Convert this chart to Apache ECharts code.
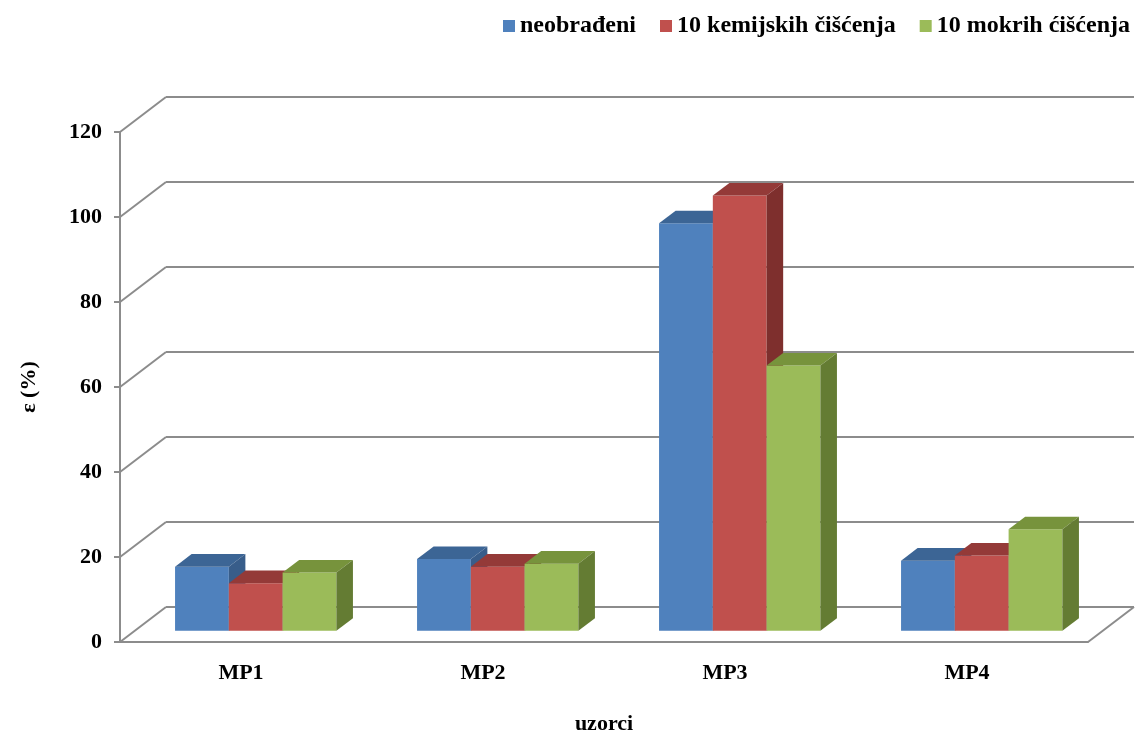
<!DOCTYPE html>
<html>
<head>
<meta charset="utf-8">
<script src="https://cdn.jsdelivr.net/npm/echarts@6/dist/echarts.min.js"></script>
<style>
  html, body { margin: 0; padding: 0; background: #fff; }
  #echart { width: 1137px; height: 736px; }
</style>
</head>
<body>
<div id="echart"></div>
<script>
var categories = ['MP1', 'MP2', 'MP3', 'MP4'];
var seriesNames = ['neobrađeni', '10 kemijskih čišćenja', '10 mokrih ćišćenja'];
var neobradeni = [15.1, 16.9, 95.9, 16.5];
var kemijskih = [11.2, 15.1, 102.4, 17.7];
var mokrih = [13.7, 15.8, 62.4, 23.9];
var yTicks = [0, 20, 40, 60, 80, 100, 120];

// colors: front, top, side
var colors = [
  ['#4f81bd', '#3c6595', '#385d8a'],
  ['#c0504d', '#943a38', '#7e2f2d'],
  ['#9bbb59', '#77933c', '#647c33']
];

// depth of the "3d" box (wall) in px, bars take the middle part of it
var wallDx = 46, wallDy = 35;
var barFront = 0.32, barDepth = 0.36;
var gridColor = '#8c8c8c';
var font = 'Liberation Serif';

function renderWalls(params, api) {
  var cs = params.coordSys;
  var y = api.coord([0, api.value(0)])[1];
  var x = cs.x;
  var children = [
    {type: 'line', shape: {x1: x, y1: y, x2: x + wallDx, y2: y - wallDy}},
    {type: 'line', shape: {x1: x + wallDx, y1: y - wallDy, x2: x + cs.width + wallDx, y2: y - wallDy}}
  ];
  if (api.value(0) === 0) {
    children.push({type: 'line', shape: {x1: x + cs.width, y1: y, x2: x + cs.width + wallDx, y2: y - wallDy}});
  }
  children.forEach(function (c) {
    c.style = {stroke: gridColor, lineWidth: 2};
  });
  return {type: 'group', children: children};
}

function makeBarRender(s) {
  return function (params, api) {
    var i = api.value(0);
    var top = api.coord([i, api.value(1)]);
    var bottom = api.coord([i, 0]);
    var band = api.size([1, 0])[0];
    var bw = band / 4.5;
    var ox = barFront * wallDx, oy = barFront * wallDy;
    var dx = barDepth * wallDx, dy = barDepth * wallDy;
    var x0 = top[0] - 1.5 * bw + s * bw + ox;
    var yt = top[1] - oy;
    var yb = bottom[1] - oy;
    var c = colors[s];
    return {
      type: 'group',
      children: [
        {type: 'rect', shape: {x: x0, y: yt, width: bw, height: yb - yt}, style: {fill: c[0]}},
        {type: 'polygon', shape: {points: [[x0, yt], [x0 + bw, yt], [x0 + bw + dx, yt - dy], [x0 + dx, yt - dy]]}, style: {fill: c[1]}},
        {type: 'polygon', shape: {points: [[x0 + bw, yt], [x0 + bw + dx, yt - dy], [x0 + bw + dx, yb - dy], [x0 + bw, yb]]}, style: {fill: c[2]}}
      ]
    };
  };
}

var values = [neobradeni, kemijskih, mokrih];
var series = [{
  type: 'custom',
  name: 'walls',
  renderItem: renderWalls,
  data: yTicks.map(function (v) { return [v]; }),
  clip: false,
  silent: true,
  z: 1
}];
for (var s = 0; s < 3; s++) {
  series.push({
    type: 'custom',
    name: seriesNames[s],
    renderItem: makeBarRender(s),
    itemStyle: {color: colors[s][0]},
    data: values[s].map(function (v, i) { return [i, v]; }),
    encode: {x: 0, y: 1},
    clip: false,
    z: 2
  });
}

var myChart = echarts.init(document.getElementById('echart'));
var option = {
  animation: false,
  legend: {
    data: seriesNames,
    right: 2,
    top: 9,
    icon: 'rect',
    itemWidth: 12,
    itemHeight: 12,
    itemGap: 24,
    textStyle: {fontFamily: font, fontWeight: 'bold', fontSize: 24, color: '#000'}
  },
  grid: {left: 120, right: 49, top: 132, bottom: 94, outerBoundsMode: 'none'},
  xAxis: {
    type: 'category',
    data: categories,
    name: 'uzorci',
    nameLocation: 'middle',
    nameGap: 71,
    nameTextStyle: {fontFamily: font, fontWeight: 'bold', fontSize: 22, color: '#000'},
    axisLine: {lineStyle: {color: gridColor, width: 2}},
    axisTick: {length: 6, lineStyle: {color: gridColor, width: 2}},
    axisLabel: {fontFamily: font, fontWeight: 'bold', fontSize: 22, color: '#000', margin: 20},
    splitLine: {show: false}
  },
  yAxis: {
    type: 'value',
    min: 0,
    max: 120,
    interval: 20,
    name: 'ε (%)',
    nameLocation: 'middle',
    nameGap: 80,
    nameTextStyle: {fontFamily: font, fontWeight: 'bold', fontSize: 22, color: '#000'},
    axisLine: {show: true, lineStyle: {color: gridColor, width: 2}},
    axisTick: {show: true, length: 6, lineStyle: {color: gridColor, width: 2}},
    axisLabel: {fontFamily: font, fontWeight: 'bold', fontSize: 22, color: '#000', margin: 18},
    splitLine: {show: false}
  },
  series: series
};
myChart.setOption(option);
</script>
</body>
</html>
